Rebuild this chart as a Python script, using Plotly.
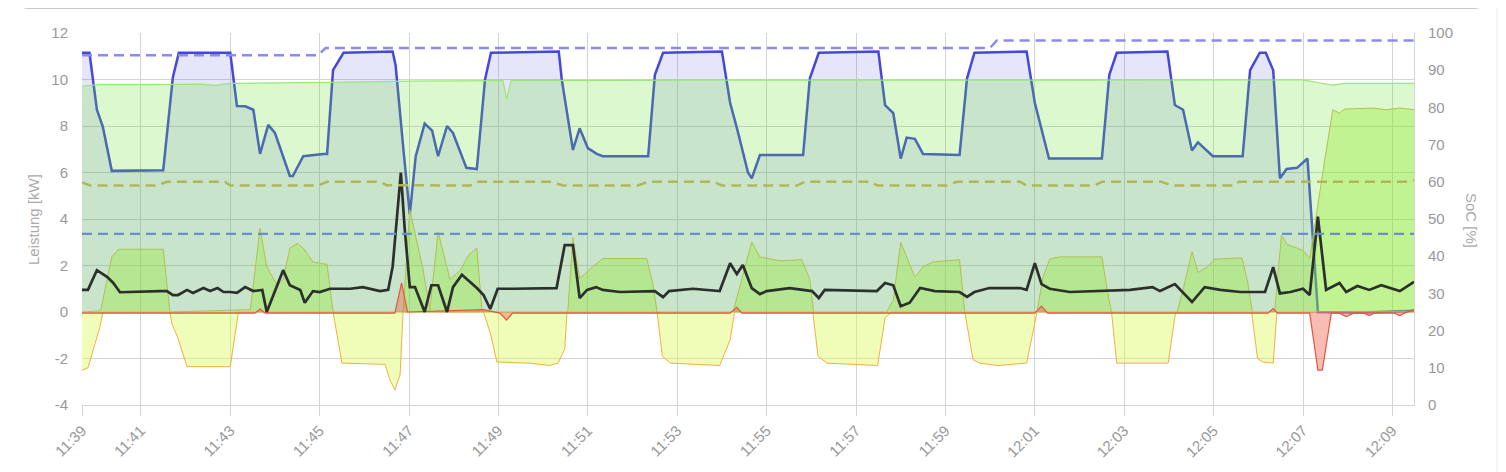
import plotly.graph_objects as go

DAY = "2024-05-01 "

# ---- Wallbox / blue power (kW) ----
blue_t = ["11:39:41","11:39:51","11:40:01","11:40:09","11:40:21","11:41:30","11:41:43","11:41:51",
          "11:43:00","11:43:09","11:43:20","11:43:31","11:43:40","11:43:51","11:44:00","11:44:20","11:44:24","11:44:38",
          "11:45:05","11:45:10","11:45:18","11:45:32","11:46:38","11:46:42","11:46:53","11:47:01","11:47:09","11:47:21",
          "11:47:31","11:47:39","11:47:51","11:47:59","11:48:17","11:48:31","11:48:42","11:48:50","11:50:21","11:50:25",
          "11:50:40","11:50:49","11:51:00","11:51:12","11:51:20","11:52:21","11:52:30","11:52:41","11:54:00","11:54:11",
          "11:54:21","11:54:35","11:54:40","11:54:51","11:55:49","11:55:58","11:56:10","11:57:30","11:57:39","11:57:50",
          "11:58:00","11:58:08","11:58:19","11:58:30","11:59:19","11:59:29","11:59:39","12:00:49","12:01:00","12:01:19",
          "12:02:30","12:02:40","12:02:50","12:03:58","12:04:08","12:04:19","12:04:31","12:04:39","12:04:59","12:05:39",
          "12:05:49","12:06:02","12:06:10","12:06:20","12:06:29","12:06:38","12:06:52","12:07:06","12:07:20","12:08:20",
          "12:09:29"]
blue_kw = [11.15,11.15,8.7,7.96,6.07,6.1,10.1,11.15,
           11.15,8.86,8.85,8.7,6.8,8.05,7.7,5.85,5.85,6.7,
           6.8,6.8,10.4,11.15,11.2,10.6,6.8,4.2,6.7,8.1,
           7.8,6.7,8.0,7.7,6.2,6.15,10.0,11.15,11.2,10.0,
           6.97,7.9,7.05,6.8,6.7,6.7,10.2,11.15,11.2,9.0,
           7.8,6.0,5.75,6.75,6.75,10.05,11.15,11.2,8.9,8.55,
           6.6,7.5,7.45,6.8,6.75,10.05,11.15,11.2,9.0,6.6,
           6.6,10.2,11.15,11.2,8.9,8.7,6.95,7.3,6.7,6.7,
           10.4,11.15,11.15,10.4,5.75,6.15,6.2,6.6,0.0,-0.02,
           0.05]

# ---- PV / light green (kW) ----
pv_t = ["11:39:41","11:40:06","11:41:12","11:42:20","11:42:40","11:43:00","11:45:14","11:47:01","11:49:02",
        "11:49:06","11:49:11","11:49:17","11:53:31","12:00:13","12:07:00","12:07:23","12:07:40","12:07:56","12:09:29"]
pv_kw = [9.72,9.78,9.78,9.8,9.75,9.83,9.88,9.93,9.95,
         9.95,9.16,9.95,9.97,9.98,9.98,9.85,9.76,9.83,9.83]

# ---- Battery charging / medium green (kW) ----
bat_t = ["11:39:41","11:40:06","11:40:21","11:40:30","11:41:30","11:41:34","11:41:39","11:43:27","11:43:40",
         "11:43:49","11:44:03","11:44:11","11:44:20","11:44:30","11:44:38","11:44:51","11:45:10","11:45:18",
         "11:46:52","11:47:01","11:47:19","11:47:28","11:47:39","11:47:55","11:48:09","11:48:20","11:48:31",
         "11:48:38","11:50:33","11:50:40","11:50:49","11:51:07","11:51:20","11:52:19","11:52:27","11:52:33",
         "11:54:15","11:54:24","11:54:40","11:54:51","11:55:18","11:55:47","11:55:58","11:56:03","11:57:41",
         "11:57:50","11:58:00","11:58:19","11:58:30","11:58:43","11:59:19","11:59:26","12:01:03","12:01:11",
         "12:01:20","12:01:33","12:02:30","12:02:38","12:02:43","12:04:11","12:04:19","12:04:31","12:04:39",
         "12:04:52","12:05:01","12:05:38","12:05:46","12:05:52","12:06:22","12:06:31","12:06:39","12:07:00",
         "12:07:09","12:07:29","12:07:40","12:07:49","12:07:56","12:08:34","12:08:52","12:09:10","12:09:29"]
bat_kw = [0,0.05,2.37,2.7,2.7,1.6,0,0.1,3.6,
          1.95,1.15,1.4,2.75,2.95,2.75,2.15,2.05,0,
          0,4.4,1.8,0.1,3.45,1.4,1.8,2.45,2.75,
          0,0,3.2,1.45,1.95,2.3,2.3,1.25,0,
          0,1.1,3.0,2.37,2.2,2.25,1.4,0,0,
          0.5,3.0,1.5,1.95,2.15,2.25,0,0,1.5,
          2.27,2.37,2.37,0.8,0,0,0.95,2.6,1.7,
          1.95,2.27,2.33,1.25,0,0,3.3,2.9,2.65,
          2.3,6.5,8.7,8.55,8.73,8.77,8.7,8.77,8.7]

# ---- Feed-in / yellow (kW) ----
feed_t = ["11:39:41","11:39:49","11:40:05","11:40:09","11:41:39","11:41:42","11:41:49","11:42:02","11:43:00",
          "11:43:11","11:45:18","11:45:30","11:46:28","11:46:34","11:46:41","11:46:48","11:46:52","11:48:40",
          "11:48:49","11:48:58","11:49:42","11:50:09","11:50:20","11:50:29","11:50:32","11:52:33","11:52:40",
          "11:52:51","11:53:57","11:54:11","11:54:17","11:56:02","11:56:09","11:56:21","11:57:29","11:57:39",
          "11:57:48","11:59:26","11:59:37","11:59:46","12:00:10","12:00:49","12:01:03","12:02:43","12:02:50",
          "12:03:59","12:04:09","12:05:51","12:05:59","12:06:06","12:06:20","12:06:25","12:09:29"]
feed_kw = [-2.5,-2.4,-0.65,0,0,-0.55,-1.05,-2.35,-2.35,
           0,0,-2.2,-2.25,-2.9,-3.35,-2.7,0,0,
           -0.9,-2.15,-2.2,-2.3,-2.2,-1.6,0,0,-1.9,
           -2.2,-2.3,-1.2,0,0,-1.9,-2.2,-2.3,-0.25,
           0,0,-2.05,-2.2,-2.3,-2.2,0,0,-2.2,
           -2.2,0,0,-2.0,-2.15,-2.2,0,0]

# ---- Grid / red (kW) ----
grid_t = ["11:39:41","11:43:33","11:43:40","11:43:47","11:46:41","11:46:50","11:46:58","11:48:40","11:49:02",
          "11:49:11","11:49:19","11:54:11","11:54:20","11:54:27","12:01:00","12:01:09","12:01:17","12:06:13",
          "12:06:20","12:06:26","12:07:09","12:07:20","12:07:26","12:07:38","12:07:49","12:07:58","12:08:08",
          "12:08:22","12:08:29","12:08:36","12:09:03","12:09:10","12:09:16","12:09:29"]
grid_kw = [-0.05,-0.05,0.13,-0.05,-0.05,1.25,0,0.1,-0.05,
           -0.35,-0.05,-0.05,0.2,-0.05,-0.05,0.25,-0.05,-0.05,
           0.15,-0.05,-0.05,-2.5,-2.5,-0.05,-0.05,-0.2,-0.05,
           -0.05,-0.15,-0.05,-0.05,-0.15,-0.05,0.1]

# ---- House consumption / black (kW) ----
house_t = ["11:39:41","11:39:49","11:40:01","11:40:15","11:40:23","11:40:32","11:41:26","11:41:35","11:41:43",
           "11:41:50","11:42:02","11:42:10","11:42:24","11:42:33","11:42:43","11:42:51","11:43:00","11:43:09",
           "11:43:20","11:43:31","11:43:43","11:43:49","11:44:11","11:44:20","11:44:34","11:44:40","11:44:51",
           "11:45:00","11:45:14","11:45:41","11:45:58","11:46:21","11:46:32","11:46:38","11:46:49","11:46:54",
           "11:47:01","11:47:08","11:47:21","11:47:30","11:47:39","11:47:51","11:47:59","11:48:11","11:48:31",
           "11:48:40","11:48:49","11:48:59","11:49:20","11:50:18","11:50:29","11:50:40","11:50:49","11:50:59",
           "11:51:11","11:51:20","11:51:43","11:52:19","11:52:30","11:52:41","11:52:49","11:53:21","11:53:57",
           "11:54:11","11:54:20","11:54:28","11:54:40","11:54:51","11:55:00","11:55:31","11:56:01","11:56:10",
           "11:56:18","11:57:28","11:57:39","11:57:50","11:58:00","11:58:12","11:58:26","11:58:46","11:59:19",
           "11:59:29","11:59:39","11:59:59","12:00:40","12:00:49","12:01:00","12:01:09","12:01:20","12:01:47",
           "12:02:27","12:03:08","12:03:38","12:03:48","12:04:08","12:04:31","12:04:48","12:05:09","12:05:36",
           "12:06:09","12:06:20","12:06:29","12:06:43","12:07:00","12:07:09","12:07:20","12:07:31","12:07:49",
           "12:07:58","12:08:13","12:08:29","12:08:45","12:09:10","12:09:29"]
house_kw = [0.95,0.95,1.8,1.5,1.25,0.85,0.9,0.9,0.73,
            0.73,0.95,0.82,1.03,0.9,1.03,0.86,0.86,0.82,
            1.07,0.9,0.95,0.0,1.8,1.15,0.95,0.4,0.9,
            0.86,1.0,1.0,1.07,0.9,0.95,1.95,6.0,3.65,
            1.07,1.07,0.0,1.15,1.15,0.0,1.07,1.6,1.03,
            0.73,0.13,1.0,1.0,1.03,2.88,2.88,0.6,0.95,
            1.07,0.95,0.86,0.9,0.9,0.64,0.9,1.0,0.9,
            2.1,1.63,2.02,1.03,0.77,0.9,1.03,0.9,0.6,
            0.95,0.9,1.25,1.15,0.25,0.4,1.03,0.9,0.86,
            0.65,0.86,1.03,1.03,0.95,2.1,1.2,1.0,0.86,
            0.9,0.95,1.07,0.9,1.2,0.43,1.07,0.95,0.86,
            0.86,1.93,0.8,0.86,1.0,0.73,4.1,0.95,1.25,
            0.86,1.12,0.95,1.15,0.9,1.3]

# ---- SoC (%) dashed lines ----
soc_car_t = ["11:39:41","11:44:58","11:45:08","12:00:00","12:00:09","12:09:29"]
soc_car = [94,94,96,96,98,98]

soc_bat_t = ["11:39:41","11:39:52","11:41:21","11:41:35","11:42:53","11:43:00","11:44:58","11:45:10","11:46:21",
             "11:46:30","11:48:22","11:48:31","11:50:09","11:50:27","11:52:07","11:52:21","11:53:48","11:54:00",
             "11:55:41","11:55:51","11:57:19","11:57:29","11:59:02","11:59:15","12:00:40","12:00:49","12:02:20",
             "12:02:30","12:03:50","12:04:04","12:05:28","12:05:34","12:09:16","12:09:29"]
soc_bat = [59.8,59.0,59.0,60.0,60.0,59.0,59.0,60.0,60.0,
           59.1,59.0,60.0,60.0,59.0,59.0,60.0,60.0,59.0,
           59.0,60.0,60.0,59.0,59.0,60.0,60.0,59.0,59.0,
           60.0,60.0,59.0,59.0,60.0,60.0,60.4]

soc_min_t = ["11:39:41","12:09:29"]
soc_min = [46,46]

# ---- axis ticks ----
tick_times = ["11:39:41","11:41:00","11:43:00","11:45:00","11:47:00","11:49:00","11:51:00","11:53:00",
              "11:55:00","11:57:00","11:59:00","12:01:00","12:03:00","12:05:00","12:07:00","12:09:00"]
tick_labels = ["11:39","11:41","11:43","11:45","11:47","11:49","11:51","11:53",
               "11:55","11:57","11:59","12:01","12:03","12:05","12:07","12:09"]
x_range = ["11:39:41", "12:09:29"]
kw_ticks = [-4, -2, 0, 2, 4, 6, 8, 10, 12]
kw_labels = ["-4", "-2", "0", "2", "4", "6", "8", "10", "12"]
soc_ticks = [0, 10, 20, 30, 40, 50, 60, 70, 80, 90, 100]


def ts(lst):
    return [DAY + t for t in lst]


fig = go.Figure()


def area(t, v, line_color, fill_color, width=1.0):
    fig.add_trace(go.Scatter(x=ts(t), y=v, mode="lines", fill="tozeroy",
                             line=dict(color=line_color, width=width),
                             fillcolor=fill_color, showlegend=False, hoverinfo="skip"))


area(blue_t, blue_kw, "#4649d8", "rgba(80,80,225,0.14)", 2.5)
area(pv_t, pv_kw, "#96e878", "rgba(95,225,30,0.22)", 1.2)
area(bat_t, bat_kw, "#b2c052", "rgba(150,235,50,0.38)", 1.0)
area(feed_t, feed_kw, "#f2b040", "rgba(220,250,100,0.45)", 1.0)
area(grid_t, grid_kw, "#e5553f", "rgba(235,90,70,0.40)", 1.2)

fig.add_trace(go.Scatter(x=ts(house_t), y=house_kw, mode="lines",
                         line=dict(color="#2c302c", width=2.7), showlegend=False, hoverinfo="skip"))

dash = "10px,6px"
fig.add_trace(go.Scatter(x=ts(soc_car_t), y=soc_car, yaxis="y2", mode="lines",
                         line=dict(color="#8a8af4", width=2.5, dash=dash), showlegend=False, hoverinfo="skip"))
fig.add_trace(go.Scatter(x=ts(soc_bat_t), y=soc_bat, yaxis="y2", mode="lines",
                         line=dict(color="#b2b65a", width=2.5, dash=dash), showlegend=False, hoverinfo="skip"))
fig.add_trace(go.Scatter(x=ts(soc_min_t), y=soc_min, yaxis="y2", mode="lines",
                         line=dict(color="#6d8bcf", width=2.2, dash=dash), showlegend=False, hoverinfo="skip"))

FONT = "Liberation Sans, Arial, sans-serif"
grid_c = "#d4d4d4"

# page body has an 8px margin: figure is 8px smaller so the plot area lands at x 82..1414, y 33..405
fig.update_layout(
    width=1498, height=464,
    margin=dict(l=74, r=92, t=25, b=67, autoexpand=False),
    paper_bgcolor="white", plot_bgcolor="white",
    xaxis=dict(type="date", range=ts(x_range), tickmode="array", tickvals=ts(tick_times), ticktext=tick_labels,
               tickangle=-45, tickfont=dict(family=FONT, size=15, color="#999999"),
               showgrid=True, gridcolor=grid_c, gridwidth=1,
               showline=True, linecolor=grid_c, linewidth=1, ticks="outside", ticklen=10, tickcolor=grid_c,
               zeroline=False, automargin=False),
    yaxis=dict(range=[-4, 12], tickmode="array", tickvals=kw_ticks, ticktext=kw_labels,
               tickfont=dict(family=FONT, size=15, color="#999999"),
               showgrid=True, gridcolor=grid_c, gridwidth=1, zeroline=False,
               ticks="", automargin=False, ticklabelstandoff=13),
    yaxis2=dict(range=[0, 100], overlaying="y", side="right", tickmode="array",
                tickvals=soc_ticks,
                tickfont=dict(family=FONT, size=15, color="#999999"),
                showgrid=False, zeroline=False, showline=True, linecolor=grid_c, linewidth=1,
                ticks="", automargin=False, ticklabelstandoff=10),
    annotations=[
        dict(text="Leistung [kW]", xref="paper", yref="paper", x=(33 - 82) / 1332, y=(405 - 220) / 372,
             textangle=-90, showarrow=False, font=dict(family=FONT, size=15, color="#aaaaaa"),
             xanchor="center", yanchor="middle"),
        dict(text="SoC [%]", xref="paper", yref="paper", x=(1472 - 82) / 1332, y=(405 - 220) / 372,
             textangle=90, showarrow=False, font=dict(family=FONT, size=15, color="#aaaaaa"),
             xanchor="center", yanchor="middle"),
    ],
    shapes=[
        dict(type="path", xref="paper", yref="paper",
             path="M -0.04655,1.11 L -0.04655,1.0887 Q -0.04655,1.0659 -0.04054,1.0659 L 1.0458,1.0659 "
                  "Q 1.0518,1.0659 1.0518,1.0887 L 1.0518,1.11",
             line=dict(color="#c8c8c8", width=1)),
        dict(type="line", xref="paper", yref="paper", x0=1.0623, x1=1.0623, y0=-0.2, y1=1.1,
             line=dict(color="#eeeeee", width=1)),
    ],
)

fig.write_html("out.html")
